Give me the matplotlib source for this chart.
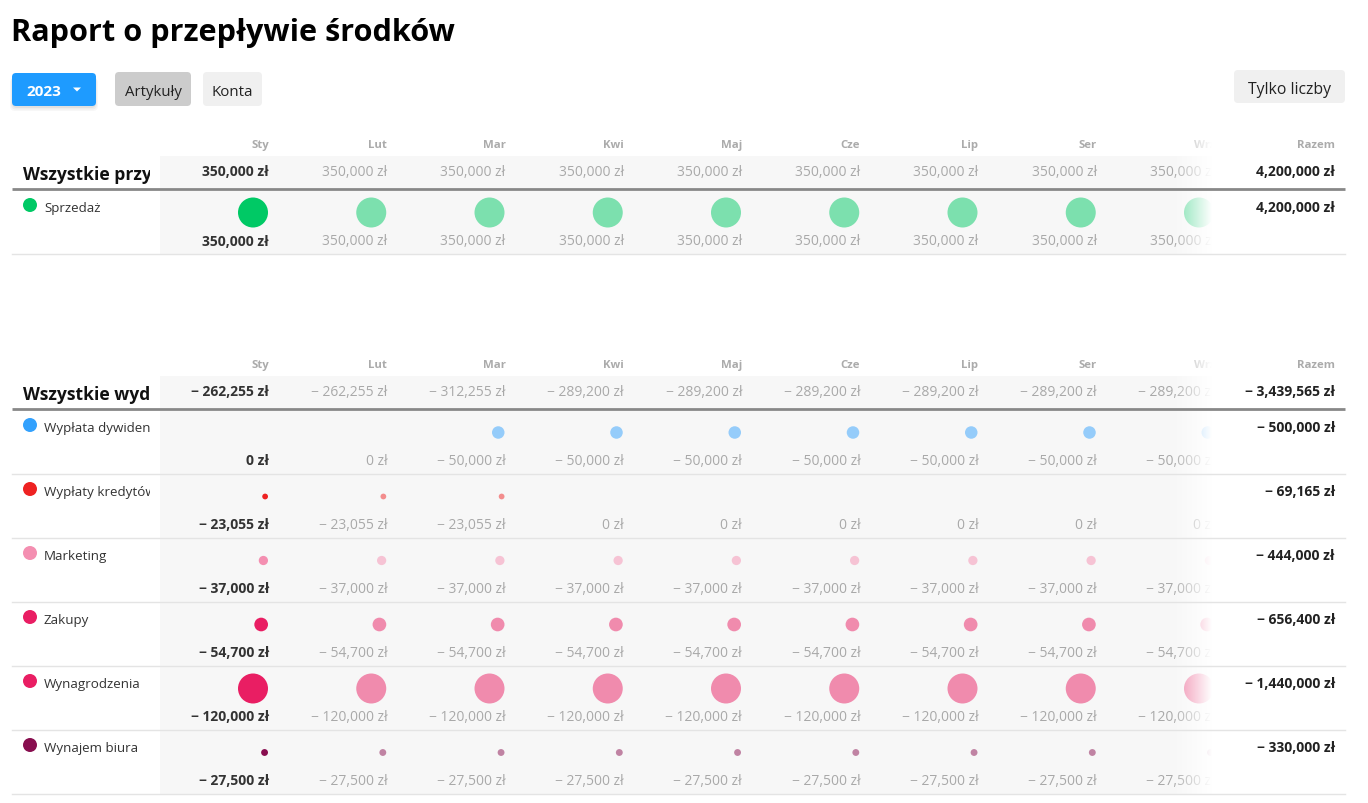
import matplotlib
matplotlib.use("Agg")
import matplotlib.pyplot as plt
from matplotlib.patches import Rectangle, FancyBboxPatch, Circle, Polygon
import numpy as np

# ---------------- data ----------------
months = ["Sty", "Lut", "Mar", "Kwi", "Maj", "Cze", "Lip", "Ser", "Wrz", "Paź", "Lis", "Gru"]

income_labels = ["Sprzedaż"]
income_colors = ["#00c965"]
sprzedaz = [350000, 350000, 350000, 350000, 350000, 350000, 350000, 350000, 350000, 350000, 350000, 350000]
income_values = [sprzedaz]

expense_labels = ["Wypłata dywidend", "Wypłaty kredytów", "Marketing", "Zakupy", "Wynagrodzenia", "Wynajem biura"]
expense_colors = ["#33a1fd", "#ee2222", "#f48fb1", "#e91e63", "#e91e63", "#880e4f"]
dywidendy = [0, 0, -50000, -50000, -50000, -50000, -50000, -50000, -50000, -50000, -50000, -50000]
kredyty = [-23055, -23055, -23055, 0, 0, 0, 0, 0, 0, 0, 0, 0]
marketing = [-37000, -37000, -37000, -37000, -37000, -37000, -37000, -37000, -37000, -37000, -37000, -37000]
zakupy = [-54700, -54700, -54700, -54700, -54700, -54700, -54700, -54700, -54700, -54700, -54700, -54700]
wynagrodzenia = [-120000, -120000, -120000, -120000, -120000, -120000, -120000, -120000, -120000, -120000, -120000, -120000]
biuro = [-27500, -27500, -27500, -27500, -27500, -27500, -27500, -27500, -27500, -27500, -27500, -27500]
expense_values = [dywidendy, kredyty, marketing, zakupy, wynagrodzenia, biuro]

title = "Raport o przepływie środków"
income_title = "Wszystkie przychody"
expense_title = "Wszystkie wydatki"
total_label = "Razem"

# ---------------- styling / layout ----------------
W, H = 1368, 804
FONT = ["Open Sans", "DejaVu Sans"]
plt.rcParams['font.family'] = FONT

fig = plt.figure(figsize=(W / 100, H / 100), dpi=100)
ax = fig.add_axes([0, 0, 1, 1])
ax.set_xlim(0, W)
ax.set_ylim(H, 0)
ax.axis("off")

LEFT = 12
GRAY_X0 = 160
COL0_RIGHT = 269
COL_W = 118.25
RAZEM_RIGHT = 1335
LINE_X1 = 1345
FADE_X0, FADE_X1 = 1172, 1212
ROW_H = 64
MAXR = 15
N_VISIBLE = 9
DY = 1.5  # text baseline nudge

GRAY_BG = "#f7f7f7"
TXT_DARK = "#333333"
TXT_GRAY = "#a9a9a9"
HDR_GRAY = "#ababab"
VAL_FS = 10
HDR_FS = 8.2


def fmt(v):
    if v == 0:
        return "0 zł"
    s = f"{abs(v):,} zł"
    return ("− " + s) if v < 0 else s


def lighten(color, a=0.5, bg=GRAY_BG):
    c = np.array(matplotlib.colors.to_rgb(color))
    b = np.array(matplotlib.colors.to_rgb(bg))
    return tuple(c * a + b * (1 - a))


# clip rectangles (negative height so the display-space box is normalised)
label_clip = Rectangle((0, H), 150, -H, transform=ax.transData)
month_clip = Rectangle((0, H), FADE_X1, -H, transform=ax.transData)

# ---------------- title and buttons ----------------
ax.text(LEFT - 1, 31 + DY, title, fontsize=22.1, fontweight="bold", color="#000000",
        va="center", ha="left")

for k, a in enumerate([0.05, 0.04, 0.03]):
    ax.add_patch(FancyBboxPatch((12 - k, 76 + k * 1.5), 84 + 2 * k, 33, boxstyle="round,pad=0,rounding_size=5",
                                fc="#000000", ec="none", alpha=a))
ax.add_patch(FancyBboxPatch((12, 74), 84, 33, boxstyle="round,pad=0,rounding_size=4",
                            fc="#1e9bff", ec="none"))
ax.text(44, 91 + DY, "2023", fontsize=11, fontweight="bold", color="white", ha="center", va="center")
ax.add_patch(Polygon([[73, 88.5], [81, 88.5], [77, 92.5]], closed=True, fc="white", ec="none"))

ax.add_patch(FancyBboxPatch((115, 73), 76, 34, boxstyle="round,pad=0,rounding_size=4",
                            fc="#cccccc", ec="none"))
ax.text(153, 91 + DY, "Artykuły", fontsize=10.8, color="#222222", ha="center", va="center")
ax.add_patch(FancyBboxPatch((203, 73), 59, 34, boxstyle="round,pad=0,rounding_size=4",
                            fc="#f0f0f0", ec="none"))
ax.text(232.5, 91 + DY, "Konta", fontsize=10.8, color="#222222", ha="center", va="center")
ax.add_patch(FancyBboxPatch((1234, 71), 111, 33, boxstyle="round,pad=0,rounding_size=4",
                            fc="#f0f0f0", ec="none"))
ax.text(1289.5, 88 + DY, "Tylko liczby", fontsize=11.3, color="#222222", ha="center", va="center")


def col_right(i):
    return COL0_RIGHT + COL_W * i


def clipped_text(x, y, s, clip, **kw):
    t = ax.text(x, y, s, clip_on=True, **kw)
    t.set_clip_path(clip)
    return t


def draw_section(y0, sec_title, labels, colors, values):
    n = len(labels)
    band_top = y0 + 13
    line_y = y0 + 46
    rows_top = y0 + 47
    bottom = rows_top + ROW_H * n
    summary = [sum(v[m] for v in values) for m in range(len(months))]
    vmax = max(abs(x) for v in values for x in v)

    ax.add_patch(Rectangle((GRAY_X0, band_top), FADE_X1 - GRAY_X0, bottom - band_top,
                           fc=GRAY_BG, ec="none", zorder=0))

    # header
    for m in range(N_VISIBLE):
        clipped_text(col_right(m), y0 + DY, months[m], month_clip, fontsize=HDR_FS, fontweight="bold",
                     color=HDR_GRAY, ha="right", va="center", zorder=2)
    ax.text(RAZEM_RIGHT, y0 + DY, total_label, fontsize=HDR_FS, fontweight="bold",
            color=HDR_GRAY, ha="right", va="center", zorder=5)

    # summary row
    clipped_text(LEFT + 11, y0 + 30 + DY, sec_title, label_clip, fontsize=12.6, fontweight="bold",
                 color="#111111", ha="left", va="center")
    for m in range(N_VISIBLE):
        first = (m == 0)
        clipped_text(col_right(m), y0 + 27 + DY, fmt(summary[m]), month_clip, fontsize=VAL_FS,
                     fontweight="bold" if first else "normal",
                     color=TXT_DARK if first else TXT_GRAY, ha="right", va="center", zorder=2)
    ax.text(RAZEM_RIGHT, y0 + 27 + DY, fmt(sum(summary)), fontsize=VAL_FS, fontweight="bold",
            color="#222222", ha="right", va="center", zorder=5)

    # item rows
    for i, (lab, col, vals) in enumerate(zip(labels, colors, values)):
        top = rows_top + ROW_H * i
        ax.add_patch(Circle((30, top + 15), 7, fc=col, ec="none", zorder=2))
        clipped_text(44, top + 16 + DY, lab, label_clip, fontsize=9.6, color="#333333",
                     ha="left", va="center", zorder=2)
        for m in range(N_VISIBLE):
            first = (m == 0)
            v = vals[m]
            if v != 0:
                r = MAXR * abs(v) / vmax
                c = Circle((col_right(m) - 1 - r, top + 22.5), r,
                           fc=col if first else lighten(col), ec="none", zorder=2)
                ax.add_patch(c)
                c.set_clip_path(month_clip)
            clipped_text(col_right(m), top + 49 + DY, fmt(v), month_clip, fontsize=VAL_FS,
                         fontweight="bold" if first else "normal",
                         color=TXT_DARK if first else TXT_GRAY, ha="right", va="center", zorder=2)
        ax.text(RAZEM_RIGHT, top + 16 + DY, fmt(sum(vals)), fontsize=VAL_FS, fontweight="bold",
                color="#222222", ha="right", va="center", zorder=5)
        ax.plot([LEFT, LINE_X1], [top + ROW_H, top + ROW_H], color="#e4e4e4", lw=1, zorder=4)

    # fade to white at the right edge of the month columns
    grad = np.ones((2, 64, 4))
    grad[..., 3] = np.linspace(0, 1, 64)[None, :]
    ax.imshow(grad, extent=(FADE_X0, FADE_X1, bottom + 1, y0 - 10), aspect="auto",
              interpolation="bilinear", zorder=3)
    ax.add_patch(Rectangle((FADE_X1 - 0.5, y0 - 10), 20, bottom - y0 + 11,
                           fc="white", ec="none", zorder=3))

    ax.plot([LEFT, LINE_X1], [line_y, line_y], color="#888888", lw=2, zorder=4,
            solid_capstyle="butt")


draw_section(144, income_title, income_labels, income_colors, income_values)
draw_section(364, expense_title, expense_labels, expense_colors, expense_values)

ax.set_xlim(0, W)
ax.set_ylim(H, 0)
fig.savefig("out.png", dpi=100)
